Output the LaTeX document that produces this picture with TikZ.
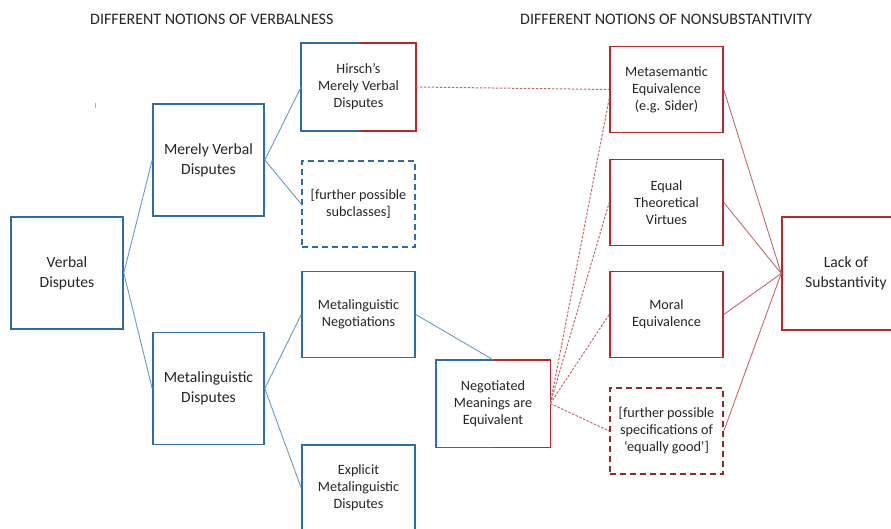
\documentclass[tikz,border=0pt]{standalone}
\usepackage{fontspec}
\setmainfont{Carlito}
\definecolor{bbox}{HTML}{2F6DA6}
\definecolor{bline}{HTML}{6A9BC8}
\definecolor{rbox}{HTML}{B8282E}
\definecolor{rline}{HTML}{C46A6E}
\definecolor{rdash}{HTML}{8E2A30}
\definecolor{txt}{HTML}{262626}
\begin{document}
\begin{tikzpicture}[x=1pt,y=-1pt,
  box/.style={minimum width=113pt,minimum height=86pt,inner sep=0pt,align=center,text=txt,font=\fontsize{14.2}{17}\selectfont,line width=1.6pt},
  bluebox/.style={box,draw=bbox},
  redbox/.style={box,draw=rbox},
  bigbox/.style={minimum width=112pt,minimum height=112pt,font=\fontsize{15.6}{20}\selectfont},
  boxdash/.style={dash pattern=on 6pt off 4pt},
  blink/.style={draw=bline,line width=0.9pt},
  rlink/.style={draw=rline,line width=0.9pt},
  rdlink/.style={draw=rline,line width=1pt,dash pattern=on 2.5pt off 1.5pt},
  title/.style={anchor=west,text=txt,font=\fontsize{16}{18}\selectfont,inner sep=0pt}
]
\clip (0,0) rectangle (891,528);
\fill[white] (0,0) rectangle (891,528);

\node[title] (t1) at (90,19) {DIFFERENT NOTIONS OF VERBALNESS};
\node[title] (t2) at (520,19) {DIFFERENT NOTIONS OF NONSUBSTANTIVITY};

\draw[gray!60,line width=0.6pt] (95,103) -- (95,108);

\node[bluebox,bigbox] (vd) at (67,273) {Verbal\\Disputes};
\node[bluebox,bigbox,minimum width=111pt] (mvd) at (208.5,160) {Merely Verbal\\Disputes};
\node[bluebox,bigbox,minimum width=111pt] (md) at (208.5,388.5) {Metalinguistic\\Disputes};
\node[box] (hv) at (358.5,87) {Hirsch’s\\Merely Verbal\\Disputes};
\node[bluebox,boxdash] (fps) at (358.5,204) {[further possible\\subclasses]};
\node[bluebox] (mn) at (358.5,314.5) {Metalinguistic\\Negotiations};
\node[bluebox] (emd) at (358.5,488) {Explicit\\Metalinguistic\\Disputes};
\node[box] (nme) at (493,403.5) {Negotiated\\Meanings are\\Equivalent};
\node[redbox] (mse) at (666.5,89.5) {Metasemantic\\Equivalence\\(e.g. Sider)};
\node[redbox] (etv) at (666.5,202.5) {Equal\\Theoretical\\Virtues};
\node[redbox] (me) at (666.5,314.5) {Moral\\Equivalence};
\node[box,draw=rdash,boxdash] (fss) at (666.5,431) {[further possible\\specifications of\\‘equally good’]};
\node[redbox,bigbox,minimum width=128pt,minimum height=113pt] (los) at (846,273.5) {Lack of\\Substantivity};

% split borders
\draw[bbox,line width=1.6pt] (hv.north) -- (hv.north west) -- (hv.south west) -- (hv.south);
\draw[rbox,line width=1.6pt] (hv.north) -- (hv.north east) -- (hv.south east) -- (hv.south);
\draw[bbox,line width=1.6pt] (nme.north) -- (nme.north west) -- (nme.south west) -- (nme.south);
\draw[rbox,line width=1.6pt] (nme.north) -- (nme.north east) -- (nme.south east) -- (nme.south);

% blue connectors
\draw[blink] (vd.east) -- (mvd.west);
\draw[blink] (vd.east) -- (md.west);
\draw[blink] (mvd.east) -- (hv.west);
\draw[blink] (mvd.east) -- (fps.west);
\draw[blink] (md.east) -- (mn.west);
\draw[blink] (md.east) -- (emd.west);
\draw[blink] (mn.east) -- (nme.north);

% red dashed connectors
\draw[rdlink] (hv.east) -- (mse.west);
\draw[rdlink] (nme.east) -- ([yshift=-9pt]mse.west);
\draw[rdlink] (nme.east) -- (etv.west);
\draw[rdlink] (nme.east) -- (me.west);
\draw[rdlink] (nme.east) -- (fss.west);

% red solid connectors
\draw[rlink] (mse.east) -- (los.west);
\draw[rlink] (etv.east) -- (los.west);
\draw[rlink] (me.east) -- (los.west);
\draw[rlink] (fss.east) -- (los.west);
\end{tikzpicture}
\end{document}
